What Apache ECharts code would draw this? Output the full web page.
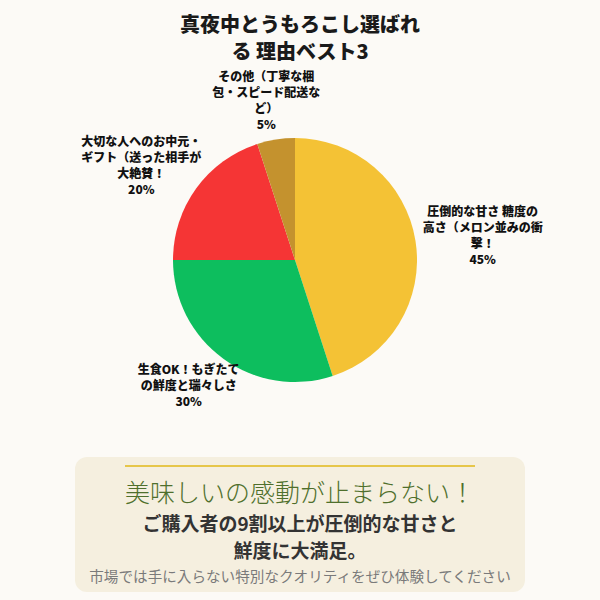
<!DOCTYPE html>
<html>
<head>
<meta charset="utf-8">
<script src="https://cdn.jsdelivr.net/npm/echarts@6/dist/echarts.min.js"></script>
<style>
  html, body { margin: 0; padding: 0; background: #FCFAF6; }
  #chart { width: 600px; height: 600px; }
</style>
</head>
<body>
<div id="chart"></div>
<script>
const titleText = "真夜中とうもろこし選ばれる 理由ベスト3";
const categories = [
  "圧倒的な甘さ 糖度の\n高さ（メロン並みの衝\n撃！",
  "生食OK！もぎたて\nの鮮度と瑞々しさ",
  "大切な人へのお中元・\nギフト（送った相手が\n大絶賛！",
  "その他（丁寧な梱\n包・スピード配送な\nど）"
];
const shares = [45, 30, 20, 5];
const colors = ["#F4C235", "#0DBE5E", "#F53535", "#C4922E"];

const headline = "美味しいの感動が止まらない！";
const bodyLines = ["ご購入者の9割以上が圧倒的な甘さと", "鮮度に大満足。"];
const footnote = "市場では手に入らない特別なクオリティをぜひ体験してください";

const font = "'Noto Sans CJK JP', 'Noto Sans', sans-serif";
const pieCenter = [295, 260];
const pieRadius = 122;
const labelGap = 4;

// push each label out along its slice's direction so its box sits just past the rim
function placeLabel(params) {
  const r = params.labelRect;
  const mx = r.x + r.width / 2 - pieCenter[0];
  const my = r.y + r.height / 2 - pieCenter[1];
  const len = Math.sqrt(mx * mx + my * my) || 1;
  const dx = mx / len;
  const dy = my / len;
  const edge = pieRadius + labelGap;
  return {
    x: pieCenter[0] + dx * edge + dx * (r.width / 2 + labelGap),
    y: pieCenter[1] + dy * edge + dy * (r.height / 2 + labelGap),
    align: "center",
    verticalAlign: "middle"
  };
}

const chart = echarts.init(document.getElementById("chart"), null, { renderer: "svg" });

const option = {
  backgroundColor: "#FCFAF6",
  title: {
    text: titleText,
    left: "center",
    top: 5,
    textStyle: {
      fontFamily: font,
      fontSize: 20,
      fontWeight: 900,
      color: "#1a1a1a",
      lineHeight: 27,
      width: 250,
      overflow: "break",
      align: "center"
    }
  },
  series: [
    {
      type: "pie",
      center: pieCenter,
      radius: pieRadius,
      silent: true,
      labelLine: { show: false },
      label: {
        show: true,
        position: "inside",
        formatter: "{b}\n{c}%",
        fontFamily: font,
        fontSize: 12,
        fontWeight: 900,
        color: "#111",
        lineHeight: 16
      },
      labelLayout: placeLabel,
      data: categories.map((name, i) => ({
        name: name,
        value: shares[i],
        itemStyle: { color: colors[i] }
      }))
    }
  ],
  graphic: [
    {
      type: "rect",
      shape: { x: 75, y: 457, width: 450, height: 135, r: 12 },
      style: { fill: "#F5EFDF" }
    },
    {
      type: "line",
      shape: { x1: 125, y1: 466, x2: 475, y2: 466 },
      style: { stroke: "#E6C64A", lineWidth: 2 }
    },
    {
      type: "text",
      x: 300, y: 491,
      style: {
        text: headline,
        align: "center", verticalAlign: "middle",
        fontFamily: font, fontSize: 25, fontWeight: 300,
        fill: "#4F6F2C"
      }
    },
    {
      type: "text",
      x: 300, y: 522,
      style: {
        text: bodyLines[0],
        align: "center", verticalAlign: "middle",
        fontFamily: font, fontSize: 19, fontWeight: "bold",
        fill: "#333"
      }
    },
    {
      type: "text",
      x: 300, y: 549,
      style: {
        text: bodyLines[1],
        align: "center", verticalAlign: "middle",
        fontFamily: font, fontSize: 19, fontWeight: "bold",
        fill: "#333"
      }
    },
    {
      type: "text",
      x: 300, y: 575,
      style: {
        text: footnote,
        align: "center", verticalAlign: "middle",
        fontFamily: font, fontSize: 14.6,
        fill: "#7a7a7a"
      }
    }
  ]
};

chart.setOption(option);
</script>
</body>
</html>
